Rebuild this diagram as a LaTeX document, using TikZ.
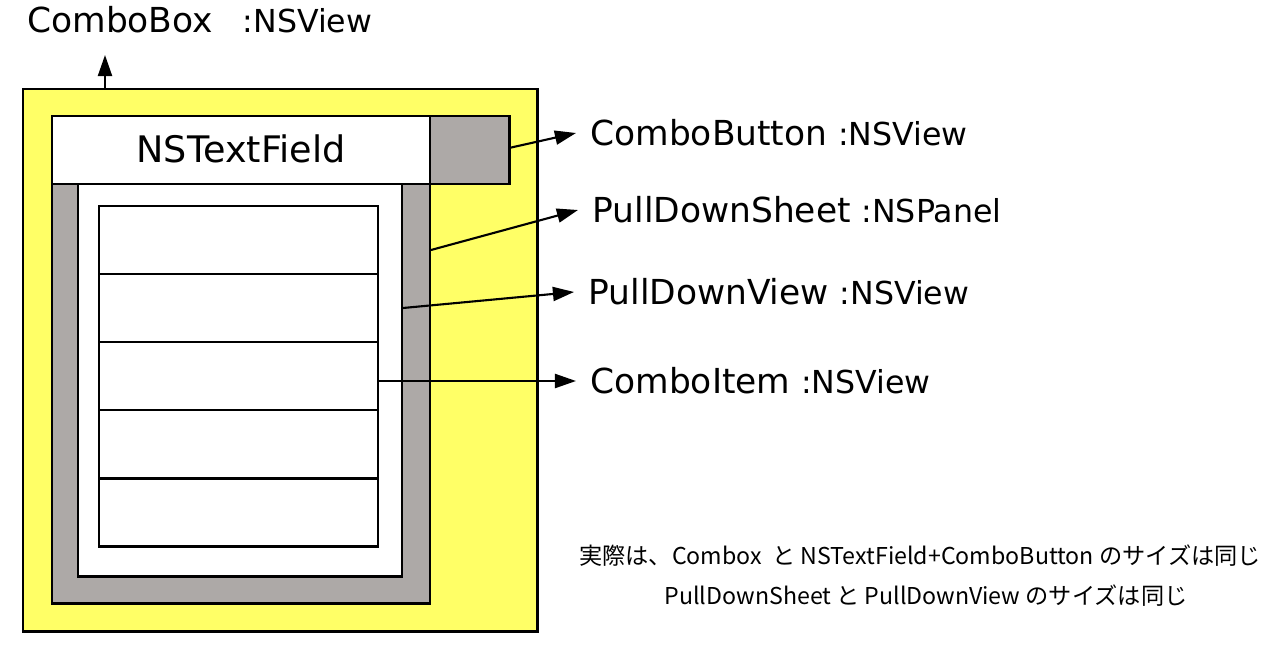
\documentclass[tikz,border=0pt]{standalone}
\usepackage{fontspec}
\setmainfont{DejaVu Sans}
\newfontfamily\jpfont{Noto Sans CJK JP}
\usetikzlibrary{arrows.meta}
\definecolor{cbyellow}{HTML}{FFFF66}
\definecolor{cbgray}{HTML}{ADA9A7}
\newcommand{\objname}[1]{{\fontsize{19.6}{23}\selectfont #1}}
\newcommand{\objtype}[1]{{\fontsize{18}{21}\selectfont #1}}
\tikzset{frame/.style={line width=1.7pt,draw=black},
  arr/.style={line width=1.2pt,-{Triangle[length=12pt,width=8pt]}},
  lbl/.style={anchor=west,inner xsep=8pt,inner ysep=0pt},
  note/.style={font=\jpfont\fontsize{13.2}{16}\selectfont,inner sep=0pt}}

\begin{document}
\begin{tikzpicture}[x=0.02cm,y=-0.02cm]
\useasboundingbox (0,0) rectangle (1274,649);
% combo box and its parts
\draw[frame,fill=cbyellow] (23,89) rectangle (537,631);
\draw[frame,fill=cbgray] (52,184) rectangle (430,603);
\draw[frame,fill=white] (78,184) rectangle (402,576);
\draw[frame,fill=white] (52,116) rectangle (430,184);
\draw[frame,fill=cbgray] (430,116) rectangle (509,184);
\node[font=\fontsize{20.8}{24}\selectfont] (tfield) at (241,149) {NSTextField};
\foreach \i in {0,...,4} \draw[frame] (99,206+68*\i) rectangle ++(279,68);
% connector start points
\coordinate (boxtop) at (105,89); \coordinate (boxup) at (105,55);
\coordinate (btnout) at (509,148); \coordinate (sheetout) at (431,250);
\coordinate (viewout) at (403,308); \coordinate (itemout) at (379,381);
% labels
\node[lbl,inner xsep=0pt] (lbox) at (27,20) {\objname{ComboBox}\hspace{17pt}\objtype{:NSView}};
\node[lbl] (lbtn) at (576,133) {\objname{ComboButton }\objtype{:NSView}};
\node[lbl] (lsheet) at (578,210) {\objname{PullDownSheet }\objtype{:NSPanel}};
\node[lbl] (lview) at (574,292) {\objname{PullDownView }\objtype{:NSView}};
\node[lbl] (litem) at (576,381) {\objname{ComboItem }\objtype{:NSView}};
\draw[arr] (boxtop) -- (boxup);
\draw[arr] (btnout) -- (lbtn.west); \draw[arr] (sheetout) -- (lsheet.west);
\draw[arr] (viewout) -- (lview.west); \draw[arr] (itemout) -- (litem.west);
% notes
\node[note] (nsize) at (920,556) {実際は、Combox\ \ と NSTextField+ComboButton のサイズは同じ};
\node[note] (nsheet) at (926,596) {PullDownSheet と PullDownView のサイズは同じ};
\end{tikzpicture}
\end{document}
